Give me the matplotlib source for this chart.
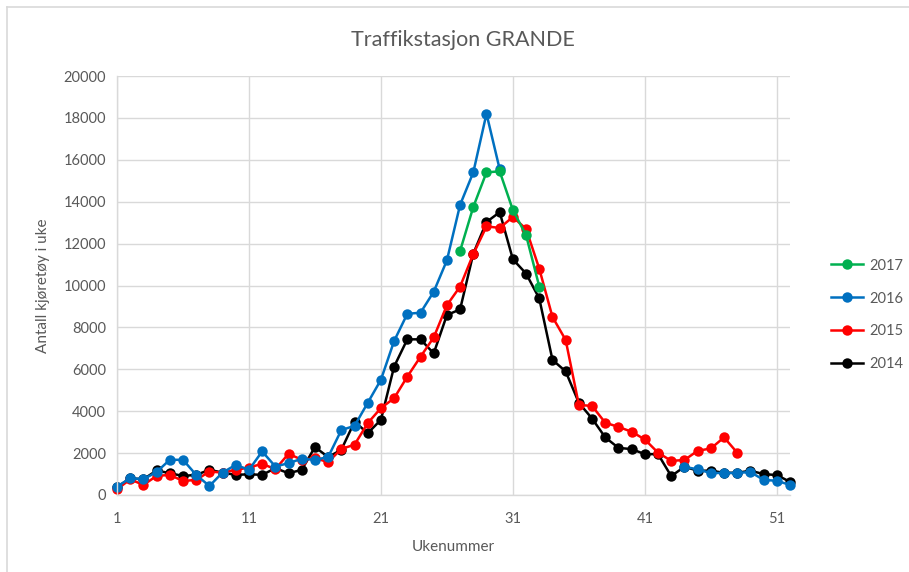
import numpy as np
import matplotlib
matplotlib.use("Agg")
import matplotlib.pyplot as plt
from matplotlib.lines import Line2D

plt.rcParams['font.family'] = ['Lato', 'DejaVu Sans']

weeks = np.arange(1, 53)
nan = np.nan

# ukedata per år (NaN = ingen registrering)
y2017 = [nan] * 26 + [11650, 13750, 15400, 15450, 13600, 12400, 9950] + [nan] * 19

y2016 = [400, 800, 750, 1100, 1680, 1680, 960, 430, 1070, 1440,
         1200, 2080, 1360, 1520, 1730, 1680, 1810, 3100, 3300, 4400,
         5500, 7350, 8650, 8700, 9700, 11200, 13850, 15400, 18200, 15550] \
        + [nan] * 13 + [1350, 1220, 1050, 1050, 1050, 1100, 720, 680, 480]

y2015 = [270, 750, 480, 910, 960, 670, 720, 1120, 1070, 1200,
         1310, 1490, 1230, 1970, 1680, 1760, 1570, 2200, 2400, 3430,
         4150, 4620, 5650, 6600, 7520, 9060, 9950, 11500, 12820, 12750,
         13270, 12700, 10800, 8500, 7400, 4300, 4250, 3450, 3250, 3020,
         2650, 2020, 1630, 1670, 2110, 2220, 2750, 2020] + [nan] * 4

y2014 = [370, 800, 750, 1170, 1040, 910, 960, 1200, 1070, 960,
         990, 960, 1280, 1040, 1200, 2290, 1810, 2160, 3500, 2950,
         3590, 6130, 7430, 7430, 6760, 8590, 8860, 11520, 13030, 13500,
         11250, 10570, 9380, 6450, 5900, 4400, 3650, 2750, 2250, 2190,
         1950, 1950, 900, 1350, 1160, 1160, 1060, 1060, 1160, 1000,
         950, 630]

series = [("2014", y2014, "#000000"),
          ("2015", y2015, "#FF0000"),
          ("2016", y2016, "#0070C0"),
          ("2017", y2017, "#00B050")]

txt = "#595959"
grid = "#D9D9D9"
lw, ms = 1.8, 7.5

fig = plt.figure(figsize=(9.09, 5.72), dpi=100)
ax = fig.add_axes([117 / 909, 1 - 495 / 572, (790 - 117) / 909, (495 - 76) / 572])

for name, vals, col in series:
    ax.plot(weeks, vals, color=col, lw=lw, marker="o", ms=ms,
            markeredgewidth=0, label=name, clip_on=False)

ax.set_xlim(1, 52)
ax.set_ylim(0, 20000)
ax.set_xticks([1, 11, 21, 31, 41, 51])
ax.set_yticks(np.arange(0, 20001, 2000))
ax.grid(True, color=grid, lw=1)
ax.set_axisbelow(True)
for s in ["top", "right"]:
    ax.spines[s].set_visible(False)
for s in ["left", "bottom"]:
    ax.spines[s].set_color(grid)
    ax.spines[s].set_linewidth(1)
ax.tick_params(length=0, colors=txt, labelsize=10.5)
ax.tick_params(axis="x", pad=12)
ax.tick_params(axis="y", pad=8)

# tittel sentrert over hele diagrammet
fig.text(463 / 909, 1 - 40 / 572, "Traffikstasjon GRANDE", color=txt, fontsize=15.5,
         ha="center", va="center")
ax.set_xlabel("Ukenummer", color=txt, fontsize=11, labelpad=10)
ax.set_ylabel("Antall kjøretøy i uke", color=txt, fontsize=11, labelpad=10)

handles = [Line2D([], [], color=c, lw=lw, marker="o", ms=ms, markeredgewidth=0)
           for _, _, c in series[::-1]]
labels = [n for n, _, _ in series[::-1]]
leg = fig.legend(handles, labels, loc="center left", bbox_to_anchor=(818 / 909, 1 - 315 / 572),
                 frameon=False, fontsize=10.5, labelspacing=1.3, handlelength=2.2,
                 handletextpad=0.4)
for t in leg.get_texts():
    t.set_color(txt)

# ramme rundt diagrammet
fig.add_artist(Line2D([7 / 909, 7 / 909], [0, 1 - 7 / 572], transform=fig.transFigure,
                      color="#D9D9D9", lw=1.2))
fig.add_artist(Line2D([7 / 909, 1], [1 - 7 / 572, 1 - 7 / 572], transform=fig.transFigure,
                      color="#D9D9D9", lw=1.2))

fig.savefig("out.png", dpi=100)
